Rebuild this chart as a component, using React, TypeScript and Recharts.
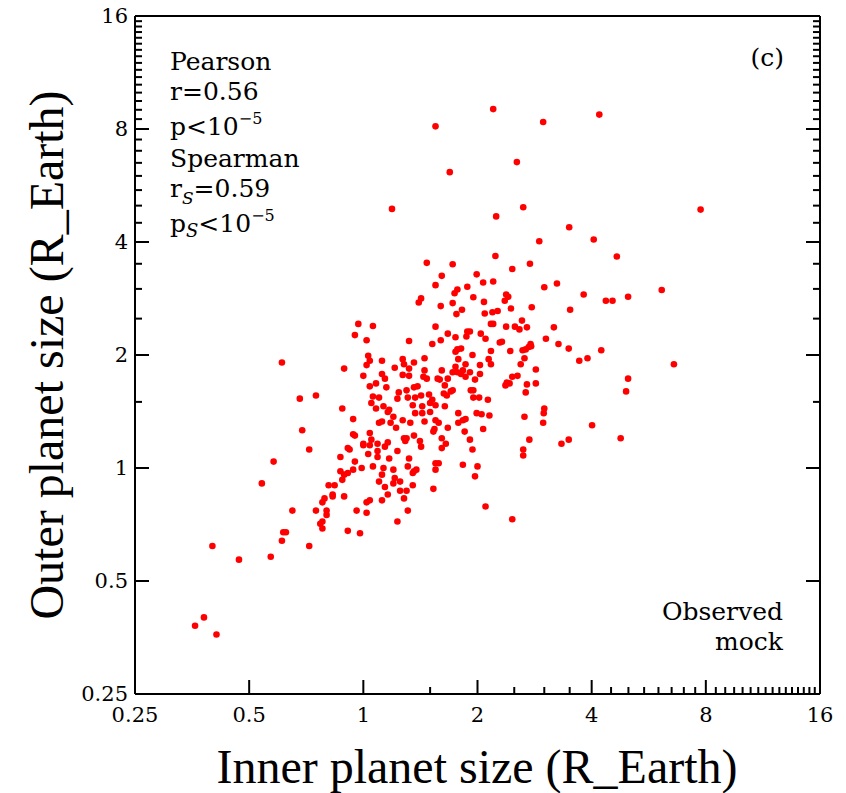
import React from 'react';
import { ScatterChart, Scatter, XAxis, YAxis } from 'recharts';

// Inner planet size (x) and outer planet size (y), in Earth radii
const innerSize = [
  0.36, 0.38, 0.41, 0.40, 0.47, 0.57, 0.61, 0.72, 1.19,
  2.20, 1.55, 2.98, 4.19, 2.54, 1.69, 2.64, 2.24, 7.75, 3.49, 4.05,
  4.66, 4.54, 4.99, 6.12, 6.59, 4.99, 4.93, 4.77,
  0.97, 1.06, 0.95, 1.02, 0.61, 1.03, 1.04, 1.12, 1.02, 0.89,
  1.00, 1.12, 1.14, 1.08, 1.04, 1.15, 1.21, 0.68, 0.75, 1.06,
  1.10, 1.05, 0.88, 1.08, 1.13, 1.17, 1.16, 0.94, 0.69, 1.10,
  1.12, 1.20, 1.18, 0.94, 0.95, 1.04, 1.00, 1.00, 1.05, 1.09,
  1.16, 1.14, 1.22, 0.72, 0.91, 0.92, 1.04, 1.09, 1.09, 1.03,
  1.23, 0.87, 0.58, 0.95, 0.94, 0.99, 1.06, 1.13, 1.17, 1.20,
  1.12, 0.87, 0.91, 0.89, 1.21, 1.20, 0.54, 0.88, 0.81, 0.84,
  1.10, 1.14, 0.83, 0.83, 0.89, 0.79, 0.78, 1.16, 1.04, 1.02,
  1.12, 0.65, 0.75, 0.80, 0.80, 0.96, 1.02, 0.78, 0.77, 0.78,
  0.91, 0.98, 0.615, 0.625, 1.24, 1.23, 1.23,
  2.91, 2.23, 1.47, 1.72, 2.47, 2.75, 1.99, 1.61, 1.55, 2.07,
  2.20, 3.00, 3.24, 1.77, 1.74, 1.88, 2.38, 2.41, 2.36, 1.95,
  1.42, 1.40, 3.81, 4.36, 1.60, 1.72, 1.82, 1.76, 2.08, 2.45,
  2.78, 3.51, 2.09, 2.19, 2.26, 2.62, 1.55, 1.67, 1.75, 1.88,
  1.91, 1.87, 2.04, 2.17, 2.20, 2.38, 2.51, 2.58, 2.70, 3.18,
  2.10, 1.32, 1.52, 1.60, 2.29, 2.32, 2.76, 2.73, 2.68, 2.63,
  2.77, 3.03, 3.27, 3.48, 4.24, 1.77, 1.81, 1.75, 2.17, 2.44,
  1.94, 1.78, 1.45, 1.27, 2.66, 3.71, 3.90, 2.14, 1.36, 1.75,
  1.86, 2.03, 2.17, 2.60, 1.32, 1.45, 1.61, 1.72, 1.77, 1.83,
  1.91, 1.81, 2.03, 1.57, 1.59, 1.67, 1.86, 1.44, 1.47, 2.85,
  2.47, 2.55, 2.39, 2.37, 2.43, 2.70, 2.85, 1.97, 1.32, 1.64,
  1.36, 1.39, 1.72, 1.70, 1.92, 1.95, 2.68, 1.42, 1.49, 1.63,
  1.66, 1.31, 1.37, 1.52, 1.50, 1.43, 1.35, 1.55, 1.95, 2.02,
  2.13, 1.64, 3.00, 2.99, 2.98, 2.66, 1.78, 1.99, 2.05, 2.15,
  1.50, 1.43, 1.37, 1.86, 1.83, 1.55, 1.58, 1.45, 1.33, 1.27,
  1.78, 1.67, 1.54, 1.53, 2.07, 1.85, 4.01, 1.36, 1.28, 1.30,
  1.29, 1.61, 1.41, 1.42, 1.91, 2.74, 3.48, 3.33, 1.65, 1.61,
  1.94, 2.64, 2.64, 1.32, 1.28, 1.27, 1.30,
  1.55, 1.58, 1.31, 1.36, 1.35, 1.38, 1.25, 1.83, 2.00, 1.97,
  1.53, 1.55, 1.35, 1.30, 1.25, 1.28, 1.31, 2.10, 2.47,
];

const outerSize = [
  0.38, 0.40, 0.36, 0.62, 0.57, 0.58, 0.64, 0.62, 4.90,
  9.04, 8.13, 8.35, 8.74, 6.53, 6.14, 4.95, 4.68, 4.88, 4.38, 4.06,
  3.66, 2.79, 2.86, 2.98, 1.89, 1.73, 1.60, 1.20,
  2.42, 2.39, 2.26, 2.19, 1.91, 1.99, 1.93, 1.93, 1.88, 1.84,
  1.76, 1.78, 1.73, 1.68, 1.65, 1.64, 1.85, 1.53, 1.56, 1.55,
  1.54, 1.49, 1.44, 1.44, 1.46, 1.43, 1.41, 1.35, 1.26, 1.32,
  1.33, 1.37, 1.32, 1.23, 1.22, 1.24, 1.16, 1.15, 1.19, 1.16,
  1.17, 1.14, 1.28, 1.12, 1.13, 1.12, 1.15, 1.11, 1.07, 1.09,
  1.11, 1.07, 1.04, 1.04, 0.99, 1.00, 1.01, 1.00, 1.06, 0.99,
  0.96, 0.98, 0.97, 0.96, 0.94, 0.91, 0.91, 0.93, 0.90, 0.90,
  0.92, 0.89, 0.85, 0.84, 0.84, 0.83, 0.81, 0.85, 0.82, 0.81,
  0.82, 0.77, 0.77, 0.77, 0.75, 0.77, 0.76, 0.72, 0.71, 0.69,
  0.68, 0.67, 0.674, 0.674, 1.59, 1.53, 0.72,
  4.02, 3.67, 3.52, 3.49, 3.39, 3.50, 3.28, 3.25, 3.07, 3.12,
  3.14, 3.03, 3.10, 2.99, 2.92, 3.04, 2.90, 2.86, 2.79, 2.85,
  2.83, 2.76, 2.90, 2.79, 2.70, 2.75, 2.64, 2.57, 2.77, 2.66,
  2.68, 2.64, 2.58, 2.60, 2.62, 2.47, 2.38, 2.28, 2.23, 2.31,
  2.31, 2.24, 2.28, 2.42, 2.42, 2.38, 2.38, 2.34, 2.37, 2.37,
  2.21, 2.18, 2.14, 2.19, 2.16, 2.17, 2.14, 2.10, 2.07, 2.06,
  2.11, 2.21, 2.14, 2.08, 2.06, 2.07, 2.08, 2.04, 2.05, 2.05,
  2.00, 1.95, 1.96, 1.95, 1.96, 1.93, 1.96, 1.95, 1.91, 1.86,
  1.89, 1.88, 1.89, 1.89, 1.84, 1.82, 1.82, 1.80, 1.80, 1.82,
  1.80, 1.78, 1.78, 1.73, 1.72, 1.73, 1.75, 1.75, 1.73, 1.83,
  1.75, 1.76, 1.69, 1.66, 1.68, 1.67, 1.68, 1.72, 1.76, 1.66,
  1.64, 1.65, 1.61, 1.60, 1.61, 1.61, 1.59, 1.56, 1.57, 1.58,
  1.56, 1.54, 1.54, 1.52, 1.49, 1.46, 1.47, 1.47, 1.54, 1.54,
  1.52, 1.46, 1.44, 1.40, 1.32, 1.37, 1.40, 1.40, 1.39, 1.38,
  1.41, 1.40, 1.40, 1.35, 1.34, 1.34, 1.32, 1.33, 1.32, 1.34,
  1.32, 1.28, 1.27, 1.25, 1.27, 1.25, 1.30, 1.22, 1.20, 1.20,
  1.18, 1.20, 1.18, 1.14, 1.19, 1.19, 1.19, 1.16, 1.16, 1.13,
  1.12, 1.12, 1.08, 1.06, 1.89, 1.77, 1.61,
  1.03, 1.03, 1.01, 0.98, 0.97, 0.99, 0.92, 1.02, 1.01, 0.95,
  0.88, 0.99, 0.90, 0.87, 0.87, 0.83, 0.77, 0.79, 0.73,
];

const majorTicks = [0.25, 0.5, 1, 2, 4, 8, 16];
const majorLabels = ['0.25', '0.5', '1', '2', '4', '8', '16'];
const minorTicks = [
  1.5, 2.5, 3, 3.5, 4.5, 5, 5.5, 6, 6.5, 7, 7.5,
  8.5, 9, 9.5, 10, 10.5, 11, 11.5, 12, 12.5, 13, 13.5, 14, 14.5, 15, 15.5,
];
const allTicks = [...majorTicks, ...minorTicks].sort((a, b) => a - b);
const domain: [number, number] = [0.25, 16];

const points = innerSize.map((x, i) => ({ x, y: outerSize[i] }));

const MAJOR_LEN = 14;
const MINOR_LEN = 7;
const TICK_FONT = '"DejaVu Serif", serif';
const TEXT_FONT = '"DejaVu Serif", serif';
const TITLE_FONT = '"Liberation Serif", "Times New Roman", serif';

const labelFor = (v: number) => {
  const i = majorTicks.indexOf(v);
  return i >= 0 ? majorLabels[i] : null;
};

const BottomTick = (props: any) => {
  const { x, y, payload } = props;
  const lab = labelFor(payload.value);
  const len = lab ? MAJOR_LEN : MINOR_LEN;
  return (
    <g>
      <line x1={x} x2={x} y1={y} y2={y - len} stroke="#000" strokeWidth={2} />
      {lab && (
        <text x={x} y={y + 28} textAnchor="middle" fontFamily={TICK_FONT} fontSize={21} fill="#000">
          {lab}
        </text>
      )}
    </g>
  );
};

const TopTick = (props: any) => {
  const { x, y, payload } = props;
  const len = labelFor(payload.value) ? MAJOR_LEN : MINOR_LEN;
  return <line x1={x} x2={x} y1={y} y2={y + len} stroke="#000" strokeWidth={2} />;
};

const LeftTick = (props: any) => {
  const { x, y, payload } = props;
  const lab = labelFor(payload.value);
  const len = lab ? MAJOR_LEN : MINOR_LEN;
  return (
    <g>
      <line x1={x} x2={x + len} y1={y} y2={y} stroke="#000" strokeWidth={2} />
      {lab && (
        <text x={x - 7} y={y + 7} textAnchor="end" fontFamily={TICK_FONT} fontSize={21} fill="#000">
          {lab}
        </text>
      )}
    </g>
  );
};

const RightTick = (props: any) => {
  const { x, y, payload } = props;
  const len = labelFor(payload.value) ? MAJOR_LEN : MINOR_LEN;
  return <line x1={x} x2={x - len} y1={y} y2={y} stroke="#000" strokeWidth={2} />;
};

const Dot = (props: any) => <circle cx={props.cx} cy={props.cy} r={3.3} fill="#ff0000" />;

const axisLine = { stroke: '#000', strokeWidth: 2 };

export default function App() {
  return (
    <div style={{ position: 'absolute', left: 0, top: 0, width: 846, height: 793, background: '#fff' }}>
      <ScatterChart width={846} height={793} margin={{ top: 15, right: 25, bottom: 59, left: 75 }}>
        <XAxis
          xAxisId="b"
          dataKey="x"
          type="number"
          scale="log"
          domain={domain}
          allowDataOverflow
          ticks={allTicks}
          interval={0}
          tickSize={0}
          tickMargin={0}
          tickLine={false}
          tick={(p: any) => <BottomTick {...p} />}
          axisLine={axisLine}
          height={40}
          orientation="bottom"
        />
        <XAxis
          xAxisId="t"
          type="number"
          scale="log"
          domain={domain}
          allowDataOverflow
          ticks={allTicks}
          interval={0}
          tickSize={0}
          tickMargin={0}
          tickLine={false}
          tick={(p: any) => <TopTick {...p} />}
          axisLine={axisLine}
          height={1}
          orientation="top"
        />
        <YAxis
          yAxisId="l"
          dataKey="y"
          type="number"
          scale="log"
          domain={domain}
          allowDataOverflow
          ticks={allTicks}
          interval={0}
          tickSize={0}
          tickMargin={0}
          tickLine={false}
          tick={(p: any) => <LeftTick {...p} />}
          axisLine={axisLine}
          width={60}
          orientation="left"
        />
        <YAxis
          yAxisId="r"
          type="number"
          scale="log"
          domain={domain}
          allowDataOverflow
          ticks={allTicks}
          interval={0}
          tickSize={0}
          tickMargin={0}
          tickLine={false}
          tick={(p: any) => <RightTick {...p} />}
          axisLine={axisLine}
          width={1}
          orientation="right"
        />
        <Scatter xAxisId="b" yAxisId="l" data={points} fill="#ff0000" shape={(p: any) => <Dot {...p} />} isAnimationActive={false} />
      </ScatterChart>
      <svg
        width={846}
        height={793}
        style={{ position: 'absolute', left: 0, top: 0, pointerEvents: 'none' }}
      >
        <g fontFamily={TEXT_FONT} fontSize={25} fill="#000">
          <text x={170} y={70}>Pearson</text>
          <text x={170} y={100}>r=0.56</text>
          <text x={170} y={135}>
            p&lt;10<tspan dy={-11} fontSize={16}>−5</tspan>
          </text>
          <text x={170} y={167}>Spearman</text>
          <text x={170} y={197}>
            r<tspan dy={7} fontSize={17} fontStyle="italic">S</tspan>
            <tspan dy={-7}>=0.59</tspan>
          </text>
          <text x={170} y={232}>
            p<tspan dy={5} fontSize={18} fontStyle="italic">S</tspan>
            <tspan dy={-5}>&lt;10</tspan>
            <tspan dy={-11} fontSize={16}>−5</tspan>
          </text>
          <text x={784} y={66} textAnchor="end">(c)</text>
          <text x={783} y={620} textAnchor="end">Observed</text>
          <text x={783} y={650} textAnchor="end">mock</text>
        </g>
        <text x={477} y={783} textAnchor="middle" fontFamily={TITLE_FONT} fontSize={48} fill="#000">
          Inner planet size (R_Earth)
        </text>
        <text
          x={63}
          y={355}
          textAnchor="middle"
          fontFamily={TITLE_FONT}
          fontSize={48}
          fill="#000"
          transform="rotate(-90 63 355)"
        >
          Outer planet size (R_Earth)
        </text>
      </svg>
    </div>
  );
}
